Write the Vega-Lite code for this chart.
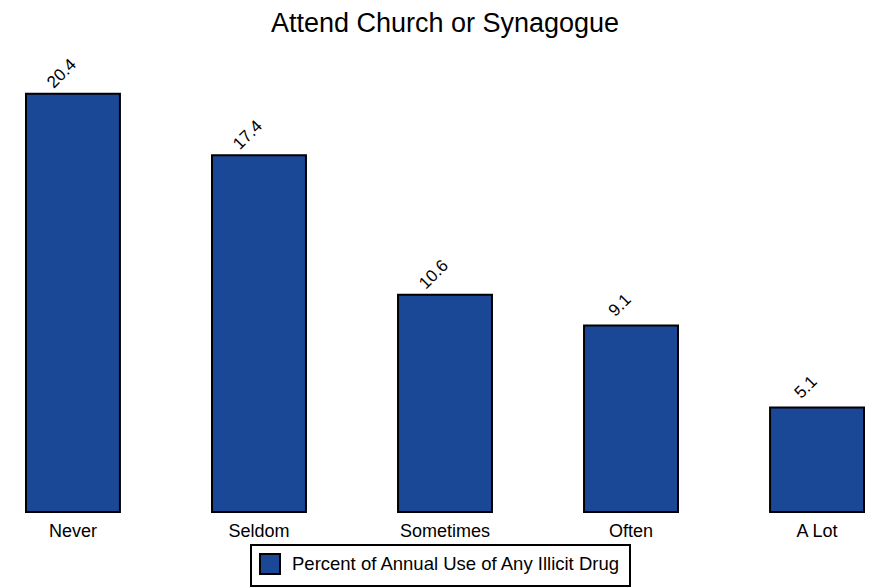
{
  "$schema": "https://vega.github.io/schema/vega-lite/v6.json",
  "width": 838,
  "height": 451,
  "autosize": {"type": "none"},
  "padding": {"left": 26, "top": 61, "right": 8, "bottom": 76},
  "background": "white",
  "config": {
    "view": {"stroke": null},
    "font": "Liberation Sans"
  },
  "title": {
    "text": "Attend Church or Synagogue",
    "fontSize": 27,
    "fontWeight": "normal",
    "font": "Liberation Sans",
    "color": "black",
    "frame": "group",
    "anchor": "middle",
    "baseline": "alphabetic",
    "offset": -3
  },
  "data": {
    "values": [
      {"attend": "Never", "pct": 20.4, "series": "Percent of Annual Use of Any Illicit Drug"},
      {"attend": "Seldom", "pct": 17.4, "series": "Percent of Annual Use of Any Illicit Drug"},
      {"attend": "Sometimes", "pct": 10.6, "series": "Percent of Annual Use of Any Illicit Drug"},
      {"attend": "Often", "pct": 9.1, "series": "Percent of Annual Use of Any Illicit Drug"},
      {"attend": "A Lot", "pct": 5.1, "series": "Percent of Annual Use of Any Illicit Drug"}
    ]
  },
  "encoding": {
    "x": {
      "field": "attend",
      "type": "nominal",
      "sort": null,
      "scale": {"paddingInner": 0.495, "paddingOuter": 0},
      "axis": {
        "title": null,
        "labelAngle": 0,
        "labelFontSize": 18,
        "labelColor": "black",
        "labelFont": "Liberation Sans",
        "domain": false,
        "ticks": false,
        "tickSize": 0,
        "labelPadding": 10
      }
    },
    "y": {
      "field": "pct",
      "type": "quantitative",
      "scale": {"domain": [0, 22], "nice": false},
      "axis": null
    }
  },
  "layer": [
    {
      "mark": {"type": "bar", "stroke": "black", "strokeWidth": 2, "opacity": 1},
      "encoding": {
        "color": {
          "field": "series",
          "type": "nominal",
          "scale": {"range": ["#1a4796"]},
          "legend": {
            "title": null,
            "orient": "none",
            "legendX": 225,
            "legendY": 484,
            "symbolType": "square",
            "symbolSize": 400,
            "symbolStrokeColor": "black",
            "symbolStrokeWidth": 2,
            "symbolOpacity": 1,
            "labelFontSize": 18.5,
            "labelFont": "Liberation Sans",
            "labelColor": "black",
            "labelLimit": 0,
            "labelOffset": 11,
            "padding": 8,
            "strokeColor": "black",
            "fillColor": "white",
            "cornerRadius": 0,
            "encode": {"legend": {"update": {"strokeWidth": {"value": 2}}}}
          }
        }
      }
    },
    {
      "mark": {
        "type": "text",
        "angle": -45,
        "align": "center",
        "baseline": "middle",
        "xOffset": -11,
        "yOffset": -20,
        "fontSize": 17,
        "font": "Liberation Sans",
        "color": "black"
      },
      "encoding": {
        "text": {"field": "pct", "type": "quantitative", "format": ".1f"}
      }
    }
  ]
}
